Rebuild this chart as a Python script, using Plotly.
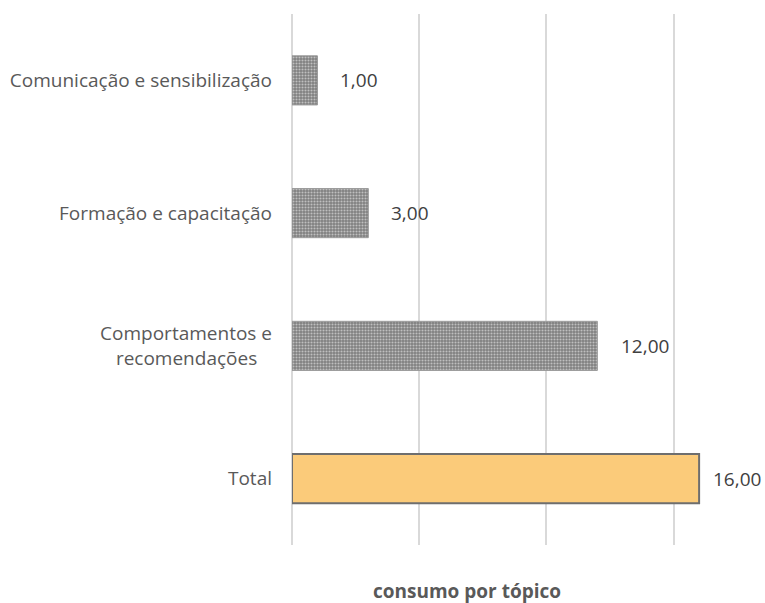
import plotly.graph_objects as go

categories = ["Comunicação e sensibilização", "Formação e capacitação",
              "Comportamentos e<br>recomendações\u00a0\u00a0\u00a0", "Total"]
values = [1, 3, 12, 16]
bar_colors = ["#7f7f7f", "#7f7f7f", "#7f7f7f", "#fbcb7a"]
line_colors = ["#9a9a9a", "#9a9a9a", "#9a9a9a", "#6e6e6e"]
line_widths = [1, 1, 1, 2]
pattern_shapes = [".", ".", ".", ""]
value_labels = ["1,00", "3,00", "12,00", "16,00"]
label_shifts = [21, 21, 22, 12]
x_title = "consumo por tópico"

font = "Open Sans"

fig = go.Figure()
fig.add_trace(go.Bar(
    y=categories, x=values, orientation="h",
    marker=dict(color=bar_colors, line=dict(color=line_colors, width=line_widths),
                pattern=dict(shape=pattern_shapes, fgcolor="#8c8c8c", size=3,
                             solidity=0.4, fillmode="overlay")),
    width=0.37, showlegend=False, hoverinfo="skip",
))

for c, v, t, s in zip(categories, values, value_labels, label_shifts):
    fig.add_annotation(x=v, y=c, text=t, showarrow=False, xanchor="left",
                       xshift=s, font=dict(family=font, size=19, color="#404040"))

fig.add_annotation(x=0.382, y=0, xref="paper", yref="paper", yshift=-46,
                   xanchor="center", yanchor="middle",
                   text="<b>" + x_title + "</b>", showarrow=False,
                   font=dict(family=font, size=19, color="#595959"))

fig.update_layout(
    width=765, height=603,
    margin=dict(l=292, r=15, t=14, b=58),
    paper_bgcolor="white", plot_bgcolor="white",
    xaxis=dict(range=[0, 18], dtick=5, showticklabels=False, showgrid=True,
               gridcolor="#d9d9d9", gridwidth=2, zeroline=True,
               zerolinecolor="#d9d9d9", zerolinewidth=2, showline=False),
    yaxis=dict(autorange="reversed", showgrid=False, zeroline=False, showline=False,
               ticks="", ticklabelstandoff=19, automargin=False,
               tickfont=dict(family=font, size=19, color="#595959")),
    separators=",.",
)

fig.write_html("out.html", config={"displayModeBar": False},
               post_script="document.body.style.margin='0';")
